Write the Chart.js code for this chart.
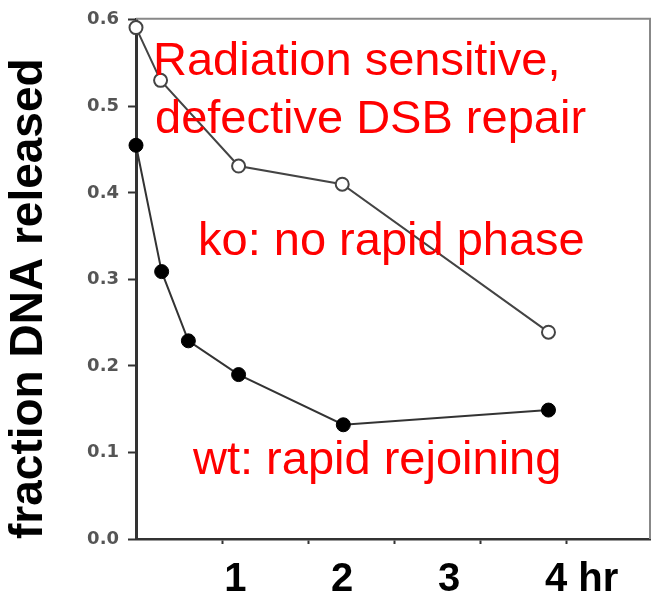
<!DOCTYPE html>
<html>
<head>
<meta charset="utf-8">
<script src="https://cdn.jsdelivr.net/npm/chart.js@4.4.1/dist/chart.umd.min.js"></script>
<style>
  html, body { margin: 0; padding: 0; background: #fff; }
</style>
</head>
<body>
<canvas id="myChart" width="654" height="603"></canvas>
<script>
// time after irradiation (hr) and fraction of DNA released
const wtTime = [0.07, 0.31, 0.56, 1.03, 2.01, 3.93];
const wtFraction = [0.455, 0.309, 0.229, 0.19, 0.132, 0.149];
const koTime = [0.07, 0.3, 1.03, 2.0, 3.93];
const koFraction = [0.591, 0.53, 0.431, 0.41, 0.239];

const yTicks = [0, 0.1, 0.2, 0.3, 0.4, 0.5, 0.6];
const xTickValues = [1, 2, 3, 4];
const xTickLabels = ["1", "2", "3", "4 hr"];
// small marks on the x axis left from the original figure
const xMarkValues = [0.877, 1.681, 2.486, 3.29, 4.095];

const notes = ["Radiation sensitive,", "defective DSB repair", "ko: no rapid phase", "wt: rapid rejoining"];

// "4 hr" is centred on its "4", so move that label a bit right
const hrShift = 0.24;
const labelPos = xTickValues.map((v, i) => (xTickLabels[i].length > 1 ? v + hrShift : v));

const notesPlugin = {
  id: "notes",
  afterDraw(chart) {
    const { ctx, chartArea: a } = chart;
    ctx.save();
    // top and right frame
    ctx.strokeStyle = "#888";
    ctx.lineWidth = 2;
    ctx.beginPath();
    ctx.moveTo(a.left, a.top - 1);
    ctx.lineTo(a.right, a.top - 1);
    ctx.lineTo(a.right, a.bottom);
    ctx.stroke();

    ctx.fillStyle = "#ff0000";
    ctx.font = '47px "Liberation Sans", Arial, sans-serif';
    ctx.textBaseline = "alphabetic";
    const spots = [[17, 55], [19, 113], [62, 235], [57, 454]];
    notes.forEach((t, i) => {
      ctx.fillText(t, a.left + spots[i][0], a.top + spots[i][1]);
    });
    ctx.restore();
  },
};

new Chart("myChart", {
  type: "scatter",
  data: {
    datasets: [
      {
        label: "ko",
        data: koTime.map((t, i) => ({ x: t, y: koFraction[i] })),
        showLine: true,
        borderColor: "#444",
        borderWidth: 2,
        pointRadius: 6.5,
        pointBackgroundColor: "#fff",
        pointBorderColor: "#444",
        pointBorderWidth: 2,
        clip: false,
      },
      {
        label: "wt",
        data: wtTime.map((t, i) => ({ x: t, y: wtFraction[i] })),
        showLine: true,
        borderColor: "#333",
        borderWidth: 2,
        pointRadius: 7,
        pointBackgroundColor: "#000",
        pointBorderColor: "#000",
        pointBorderWidth: 1,
        clip: false,
      },
    ],
  },
  options: {
    responsive: false,
    animation: false,
    layout: { autoPadding: false, padding: { top: 15, right: 4, left: 0, bottom: 0 } },
    plugins: {
      legend: { display: false },
      tooltip: { enabled: false },
    },
    scales: {
      x: {
        type: "linear",
        min: 0.07,
        max: 4.88,
        afterBuildTicks: (s) => {
          s.ticks = xMarkValues.concat(labelPos).sort((a, b) => a - b).map((v) => ({ value: v }));
        },
        afterFit: (s) => {
          s.height = 64;
        },
        border: { color: "#333", width: 2.5 },
        grid: {
          drawOnChartArea: false,
          tickLength: 5,
          tickWidth: 2,
          tickColor: (c) => (labelPos.includes(c.tick.value) ? "rgba(0,0,0,0)" : "#333"),
        },
        ticks: {
          autoSkip: false,
          maxRotation: 0,
          color: "#000",
          padding: 12,
          font: { family: "Liberation Sans", weight: "bold", size: 40 },
          callback: (v) => {
            const k = labelPos.indexOf(v);
            return k < 0 ? "" : xTickLabels[k];
          },
        },
      },
      y: {
        min: 0,
        max: 0.6,
        afterBuildTicks: (s) => {
          s.ticks = yTicks.map((v) => ({ value: v }));
        },
        afterFit: (s) => {
          s.width = 136;
        },
        border: { color: "#333", width: 3 },
        grid: { drawOnChartArea: false, tickLength: 8, tickWidth: 2, tickColor: "#333" },
        ticks: {
          color: "#555",
          padding: 9,
          font: { family: "DejaVu Sans", weight: "bold", size: 18 },
          callback: (v) => v.toFixed(1),
        },
        title: {
          display: true,
          text: "fraction DNA released",
          align: "start",
          color: "#000",
          padding: { top: 2, bottom: 0 },
          font: { family: "Liberation Sans", weight: "bold", size: 46 },
        },
      },
    },
  },
  plugins: [notesPlugin],
});
</script>
</body>
</html>
